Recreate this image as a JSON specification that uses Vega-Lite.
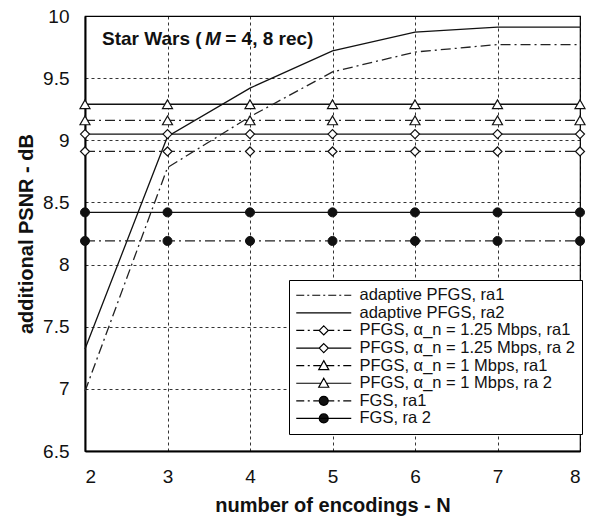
{
  "$schema": "https://vega.github.io/schema/vega-lite/v6.json",
  "width": 495,
  "height": 435,
  "autosize": {"type": "none"},
  "padding": {"left": 85, "top": 16, "right": 15, "bottom": 66},
  "background": "white",
  "config": {
    "font": "Liberation Sans",
    "view": {"stroke": "black", "strokeWidth": 1.2},
    "axis": {
      "domainColor": "black", "domainWidth": 2, "ticks": false,
      "grid": true, "gridColor": "black", "gridDash": [3, 3], "gridWidth": 0.8, "gridOpacity": 1,
      "labelFont": "Liberation Sans", "labelFontSize": 19, "labelColor": "#111",
      "titleFont": "Liberation Sans", "titleFontSize": 20, "titleFontWeight": "bold", "titleColor": "#111"
    }
  },
  "datasets": {
    "main": [
      {"series": "adaptive PFGS, ra1", "N": 2, "psnr": 6.98},
      {"series": "adaptive PFGS, ra1", "N": 3, "psnr": 8.78},
      {"series": "adaptive PFGS, ra1", "N": 4, "psnr": 9.19},
      {"series": "adaptive PFGS, ra1", "N": 5, "psnr": 9.55},
      {"series": "adaptive PFGS, ra1", "N": 6, "psnr": 9.71},
      {"series": "adaptive PFGS, ra1", "N": 7, "psnr": 9.77},
      {"series": "adaptive PFGS, ra1", "N": 8, "psnr": 9.77},
      {"series": "adaptive PFGS, ra2", "N": 2, "psnr": 7.32},
      {"series": "adaptive PFGS, ra2", "N": 3, "psnr": 9.03},
      {"series": "adaptive PFGS, ra2", "N": 4, "psnr": 9.42},
      {"series": "adaptive PFGS, ra2", "N": 5, "psnr": 9.72},
      {"series": "adaptive PFGS, ra2", "N": 6, "psnr": 9.87},
      {"series": "adaptive PFGS, ra2", "N": 7, "psnr": 9.91},
      {"series": "adaptive PFGS, ra2", "N": 8, "psnr": 9.91},
      {"series": "PFGS, α_n = 1.25 Mbps, ra1", "N": 2, "psnr": 8.91},
      {"series": "PFGS, α_n = 1.25 Mbps, ra1", "N": 3, "psnr": 8.91},
      {"series": "PFGS, α_n = 1.25 Mbps, ra1", "N": 4, "psnr": 8.91},
      {"series": "PFGS, α_n = 1.25 Mbps, ra1", "N": 5, "psnr": 8.91},
      {"series": "PFGS, α_n = 1.25 Mbps, ra1", "N": 6, "psnr": 8.91},
      {"series": "PFGS, α_n = 1.25 Mbps, ra1", "N": 7, "psnr": 8.91},
      {"series": "PFGS, α_n = 1.25 Mbps, ra1", "N": 8, "psnr": 8.91},
      {"series": "PFGS, α_n = 1.25 Mbps, ra 2", "N": 2, "psnr": 9.05},
      {"series": "PFGS, α_n = 1.25 Mbps, ra 2", "N": 3, "psnr": 9.05},
      {"series": "PFGS, α_n = 1.25 Mbps, ra 2", "N": 4, "psnr": 9.05},
      {"series": "PFGS, α_n = 1.25 Mbps, ra 2", "N": 5, "psnr": 9.05},
      {"series": "PFGS, α_n = 1.25 Mbps, ra 2", "N": 6, "psnr": 9.05},
      {"series": "PFGS, α_n = 1.25 Mbps, ra 2", "N": 7, "psnr": 9.05},
      {"series": "PFGS, α_n = 1.25 Mbps, ra 2", "N": 8, "psnr": 9.05},
      {"series": "PFGS, α_n = 1 Mbps, ra1", "N": 2, "psnr": 9.16},
      {"series": "PFGS, α_n = 1 Mbps, ra1", "N": 3, "psnr": 9.16},
      {"series": "PFGS, α_n = 1 Mbps, ra1", "N": 4, "psnr": 9.16},
      {"series": "PFGS, α_n = 1 Mbps, ra1", "N": 5, "psnr": 9.16},
      {"series": "PFGS, α_n = 1 Mbps, ra1", "N": 6, "psnr": 9.16},
      {"series": "PFGS, α_n = 1 Mbps, ra1", "N": 7, "psnr": 9.16},
      {"series": "PFGS, α_n = 1 Mbps, ra1", "N": 8, "psnr": 9.16},
      {"series": "PFGS, α_n = 1 Mbps, ra 2", "N": 2, "psnr": 9.29},
      {"series": "PFGS, α_n = 1 Mbps, ra 2", "N": 3, "psnr": 9.29},
      {"series": "PFGS, α_n = 1 Mbps, ra 2", "N": 4, "psnr": 9.29},
      {"series": "PFGS, α_n = 1 Mbps, ra 2", "N": 5, "psnr": 9.29},
      {"series": "PFGS, α_n = 1 Mbps, ra 2", "N": 6, "psnr": 9.29},
      {"series": "PFGS, α_n = 1 Mbps, ra 2", "N": 7, "psnr": 9.29},
      {"series": "PFGS, α_n = 1 Mbps, ra 2", "N": 8, "psnr": 9.29},
      {"series": "FGS, ra1", "N": 2, "psnr": 8.19},
      {"series": "FGS, ra1", "N": 3, "psnr": 8.19},
      {"series": "FGS, ra1", "N": 4, "psnr": 8.19},
      {"series": "FGS, ra1", "N": 5, "psnr": 8.19},
      {"series": "FGS, ra1", "N": 6, "psnr": 8.19},
      {"series": "FGS, ra1", "N": 7, "psnr": 8.19},
      {"series": "FGS, ra1", "N": 8, "psnr": 8.19},
      {"series": "FGS, ra 2", "N": 2, "psnr": 8.42},
      {"series": "FGS, ra 2", "N": 3, "psnr": 8.42},
      {"series": "FGS, ra 2", "N": 4, "psnr": 8.42},
      {"series": "FGS, ra 2", "N": 5, "psnr": 8.42},
      {"series": "FGS, ra 2", "N": 6, "psnr": 8.42},
      {"series": "FGS, ra 2", "N": 7, "psnr": 8.42},
      {"series": "FGS, ra 2", "N": 8, "psnr": 8.42}
    ],
    "title": [
      {"part": "Star Wars ("},
      {"part": "M"},
      {"part": "= 4, 8 rec)"}
    ]
  },
  "layer": [
    {
      "data": {"name": "main"},
      "transform": [{"filter": "false"}],
      "mark": {"type": "point", "stroke": "black", "strokeWidth": 1.2, "opacity": 1},
      "encoding": {
        "x": {"field": "N", "type": "quantitative",
          "scale": {"domain": [2, 8], "nice": false, "zero": false},
          "axis": {"values": [2, 3, 4, 5, 6, 7, 8], "format": "d", "labelPadding": 16, "titlePadding": 9, "title": "number of encodings - N"}},
        "y": {"field": "psnr", "type": "quantitative",
          "scale": {"domain": [6.5, 10], "nice": false, "zero": false},
          "axis": {"values": [6.5, 7, 7.5, 8, 8.5, 9, 9.5, 10], "format": ".1~f", "labelPadding": 16, "titlePadding": 6, "title": "additional PSNR - dB"}},
        "shape": {"field": "series", "type": "nominal",
          "scale": {
            "domain": ["adaptive PFGS, ra1", "adaptive PFGS, ra2", "PFGS, α_n = 1.25 Mbps, ra1", "PFGS, α_n = 1.25 Mbps, ra 2", "PFGS, α_n = 1 Mbps, ra1", "PFGS, α_n = 1 Mbps, ra 2", "FGS, ra1", "FGS, ra 2"],
            "range": [
              "M-6.875,0L-4.875,0M-4.125,0L-3.625,0M-2.875,0L-0.875,0M-0.125,0L0.375,0M1.125,0L3.125,0M3.875,0L4.375,0M5.125,0L6.875,0",
              "M-6.875,0L6.875,0",
              "M-6.875,0L-4.875,0M-4,0L-3.5,0M-2.625,0L-1.125,0M1.125,0L2.625,0M3.5,0L4,0M4.875,0L6.875,0M0,-1.125L1.125,0L0,1.125L-1.125,0Z",
              "M-6.875,0L-1.125,0M1.125,0L6.875,0M0,-1.125L1.125,0L0,1.125L-1.125,0Z",
              "M-6.875,0L-4.875,0M-4,0L-3.5,0M-2.625,0L-0.7,0M0.7,0L2.625,0M3.5,0L4,0M4.875,0L6.875,0M0,-1.25L1.25,1L-1.25,1Z",
              "M-6.875,0L-0.7,0M0.7,0L6.875,0M0,-1.25L1.25,1L-1.25,1Z",
              "M-6.875,0L-4.875,0M-4,0L-3.5,0M-2.625,0L-1.125,0M1.125,0L2.625,0M3.5,0L4,0M4.875,0L6.875,0M1.125,0C1.125,0.621 0.621,1.125 0,1.125C-0.621,1.125 -1.125,0.621 -1.125,0C-1.125,-0.621 -0.621,-1.125 0,-1.125C0.621,-1.125 1.125,-0.621 1.125,0Z",
              "M-6.875,0L6.875,0M1.125,0C1.125,0.621 0.621,1.125 0,1.125C-0.621,1.125 -1.125,0.621 -1.125,0C-1.125,-0.621 -0.621,-1.125 0,-1.125C0.621,-1.125 1.125,-0.621 1.125,0Z"
            ]},
          "legend": {"orient": "none", "legendX": 204, "legendY": 264, "title": null, "padding": 7,
            "strokeColor": "black", "fillColor": "white",
            "labelFont": "Liberation Sans", "labelFontSize": 16.5, "labelColor": "#111", "labelLimit": 400,
            "symbolSize": 64, "symbolOffset": 19.5, "labelOffset": 27.5, "rowPadding": 0.6,
            "symbolStrokeWidth": 1.2,
            "encode": {"symbols": {"stroke": {"value": "#111"}, "strokeWidth": {"value": 1.2}, "strokeOpacity": {"value": 1}, "opacity": {"value": 1}}}}},
        "fill": {"field": "series", "type": "nominal",
          "scale": {
            "domain": ["adaptive PFGS, ra1", "adaptive PFGS, ra2", "PFGS, α_n = 1.25 Mbps, ra1", "PFGS, α_n = 1.25 Mbps, ra 2", "PFGS, α_n = 1 Mbps, ra1", "PFGS, α_n = 1 Mbps, ra 2", "FGS, ra1", "FGS, ra 2"],
            "range": ["transparent", "transparent", "white", "white", "white", "white", "#111", "#111"]}}
      }
    },
    {
      "data": {"name": "main"},
      "transform": [{"filter": {"field": "series", "oneOf": ["adaptive PFGS, ra2", "PFGS, α_n = 1.25 Mbps, ra 2", "PFGS, α_n = 1 Mbps, ra 2", "FGS, ra 2"]}}],
      "mark": {"type": "line", "color": "#111", "strokeWidth": 1.3},
      "encoding": {"x": {"field": "N", "type": "quantitative"}, "y": {"field": "psnr", "type": "quantitative"}, "detail": {"field": "series"}}
    },
    {
      "data": {"name": "main"},
      "transform": [{"filter": {"field": "series", "oneOf": ["adaptive PFGS, ra1", "PFGS, α_n = 1.25 Mbps, ra1", "PFGS, α_n = 1 Mbps, ra1", "FGS, ra1"]}}],
      "mark": {"type": "line", "color": "#222", "strokeWidth": 1.3, "strokeDash": [10, 4, 2, 4]},
      "encoding": {"x": {"field": "N", "type": "quantitative"}, "y": {"field": "psnr", "type": "quantitative"}, "detail": {"field": "series"}}
    },
    {
      "data": {"name": "main"},
      "transform": [{"filter": {"field": "series", "oneOf": ["PFGS, α_n = 1.25 Mbps, ra1", "PFGS, α_n = 1.25 Mbps, ra 2"]}}],
      "mark": {"type": "point", "shape": "diamond", "size": 81, "fill": "white", "stroke": "#111", "strokeWidth": 1.2, "opacity": 1, "filled": false},
      "encoding": {"x": {"field": "N", "type": "quantitative"}, "y": {"field": "psnr", "type": "quantitative"}}
    },
    {
      "data": {"name": "main"},
      "transform": [{"filter": {"field": "series", "oneOf": ["PFGS, α_n = 1 Mbps, ra1", "PFGS, α_n = 1 Mbps, ra 2"]}}],
      "mark": {"type": "point", "shape": "triangle-up", "size": 100, "fill": "white", "stroke": "#111", "strokeWidth": 1.2, "opacity": 1, "filled": false},
      "encoding": {"x": {"field": "N", "type": "quantitative"}, "y": {"field": "psnr", "type": "quantitative"}}
    },
    {
      "data": {"name": "main"},
      "transform": [{"filter": {"field": "series", "oneOf": ["FGS, ra1", "FGS, ra 2"]}}],
      "mark": {"type": "point", "shape": "circle", "size": 81, "fill": "#111", "stroke": "#111", "strokeWidth": 1, "opacity": 1, "filled": true},
      "encoding": {"x": {"field": "N", "type": "quantitative"}, "y": {"field": "psnr", "type": "quantitative"}}
    },
    {
      "data": {"name": "title"},
      "transform": [{"filter": "datum.part == 'Star Wars ('"}],
      "mark": {"type": "text", "font": "Liberation Sans", "fontSize": 19, "fontWeight": "bold", "align": "left", "baseline": "alphabetic", "fill": "#111"},
      "encoding": {"x": {"datum": 2.206}, "y": {"datum": 9.767}, "text": {"field": "part"}}
    },
    {
      "data": {"name": "title"},
      "transform": [{"filter": "datum.part == 'M'"}],
      "mark": {"type": "text", "font": "Liberation Sans", "fontSize": 19, "fontWeight": "bold", "fontStyle": "italic", "align": "left", "baseline": "alphabetic", "fill": "#111"},
      "encoding": {"x": {"datum": 3.455}, "y": {"datum": 9.767}, "text": {"field": "part"}}
    },
    {
      "data": {"name": "title"},
      "transform": [{"filter": "datum.part == '= 4, 8 rec)'"}],
      "mark": {"type": "text", "font": "Liberation Sans", "fontSize": 19, "fontWeight": "bold", "align": "left", "baseline": "alphabetic", "fill": "#111"},
      "encoding": {"x": {"datum": 3.70}, "y": {"datum": 9.767}, "text": {"field": "part"}}
    }
  ]
}
